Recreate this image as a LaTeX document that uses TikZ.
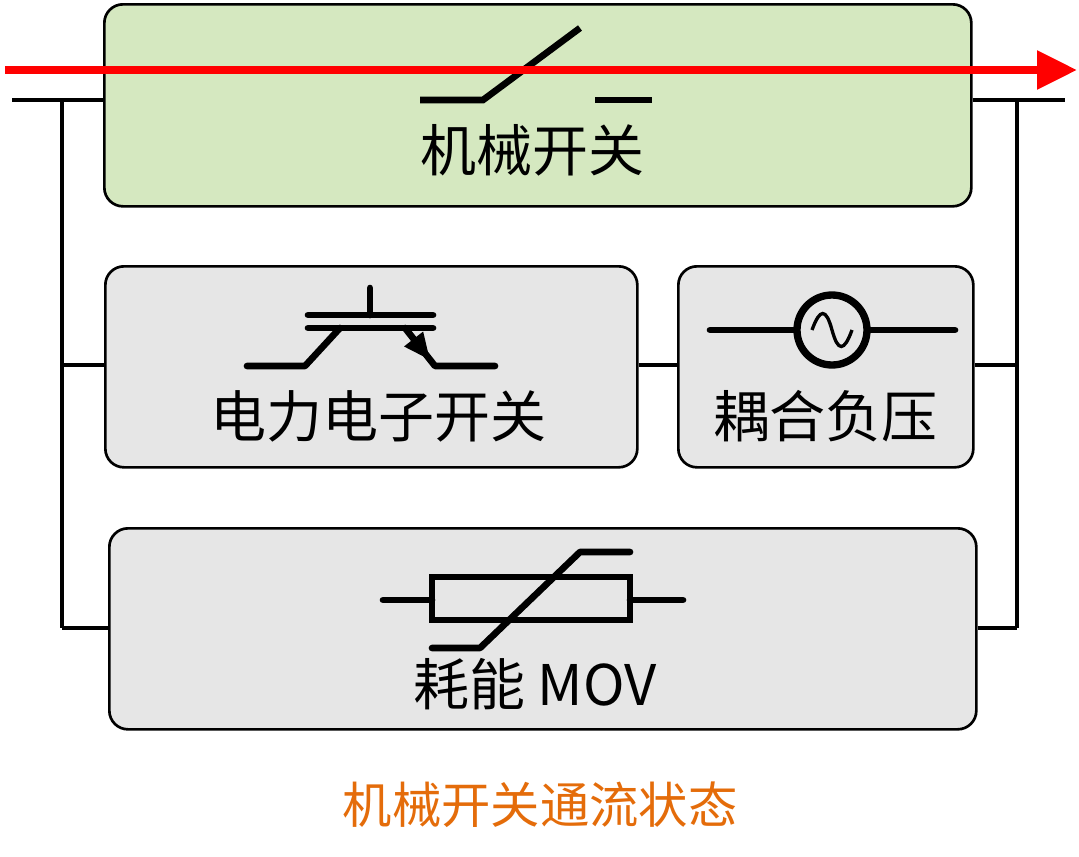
\documentclass[tikz,border=0pt]{standalone}
\usepackage{fontspec}
\newfontfamily\cjk{Noto Sans CJK SC}
\usetikzlibrary{arrows.meta}
\definecolor{gbox}{HTML}{D5E8C0}
\definecolor{gray1}{HTML}{E6E6E6}
\definecolor{cap}{HTML}{E46C0A}
\begin{document}
\begin{tikzpicture}[x=0.75pt,y=-0.75pt,
  blk/.style={draw=black,line width=2pt,rounded corners=14pt},
  wire/.style={line width=3pt},
  sym/.style={line width=5pt,line cap=round},
  lbl/.style={font=\cjk\fontsize{42}{44}\selectfont}]
\useasboundingbox (0,0) rectangle (1079,857);
% boxes
\node[blk,fill=gbox,minimum width=867*0.75pt,minimum height=202*0.75pt,anchor=north west] (mech) at (103,3) {};
\node[blk,fill=gray1,minimum width=532*0.75pt,minimum height=201*0.75pt,anchor=north west] (pe) at (104,265) {};
\node[blk,fill=gray1,minimum width=295*0.75pt,minimum height=201*0.75pt,anchor=north west] (cp) at (677,265) {};
\node[blk,fill=gray1,minimum width=867*0.75pt,minimum height=201*0.75pt,anchor=north west] (mov) at (108,527) {};
% wires
\coordinate (l0) at (12,100); \coordinate (r0) at (1065,100);
\draw[wire] (l0) -- (mech.west|-l0);
\draw[wire] (mech.east|-r0) -- (r0);
\draw[wire] (62,100) -- (62,628);
\draw[wire] (1017,100) -- (1017,628);
\draw[wire] (62,365) -- (pe.west|-0,365);
\draw[wire] (62,628) -- (mov.west|-0,628);
\draw[wire] (pe.east|-0,365) -- (cp.west|-0,365);
\draw[wire] (cp.east|-0,365) -- (1017,365);
\draw[wire] (mov.east|-0,628) -- (1017,628);
% mechanical switch
\draw[line width=5pt] (420,100) -- (483,100) -- (580,28);
\draw[line width=5pt] (595,100) -- (652,100);
\node[lbl] (t1) at (532,150) {机械开关};
% IGBT
\draw[sym] (370,288) -- (370,315);
\draw[sym] (308,315) -- (433,315);
\draw[sym] (308,328) -- (433,328);
\draw[sym,line join=round] (340,328) -- (305,366) -- (247,366);
\draw[sym,line join=round] (405,328) -- (435,366) -- (495,366);
\draw[line width=4pt,-{Triangle[length=20pt,width=17pt]}] (405,328) -- (430,360);
\node[lbl] (t2) at (378,416) {电力电子开关};
% source
\draw[sym] (710,330) -- (795,330);
\draw[sym] (869,330) -- (955,330);
\draw[line width=5.5pt] (832,330) circle (35);
\draw[line width=2.5pt] (812,330) .. controls (820,308) and (826,308) .. (832,330) .. controls (838,352) and (844,352) .. (852,330);
\node[lbl] (t3) at (825,416) {耦合负压};
% MOV
\draw[sym] (383,600) -- (432,600);
\draw[sym] (630,600) -- (683,600);
\draw[line width=5pt] (432,577) rectangle (630,620);
\draw[sym,line join=round] (432,648) -- (480,648) -- (580,552) -- (630,552);
\node[lbl] (t4) at (535,684) {耗能 MOV};
% caption
\node[font=\cjk\fontsize{37}{39}\selectfont,text=cap] (cap) at (540,805) {机械开关通流状态};
% red arrow
\draw[red,line width=6pt,-{Triangle[length=30pt,width=28pt]}] (5,70) -- (1077,70);
\end{tikzpicture}
\end{document}
